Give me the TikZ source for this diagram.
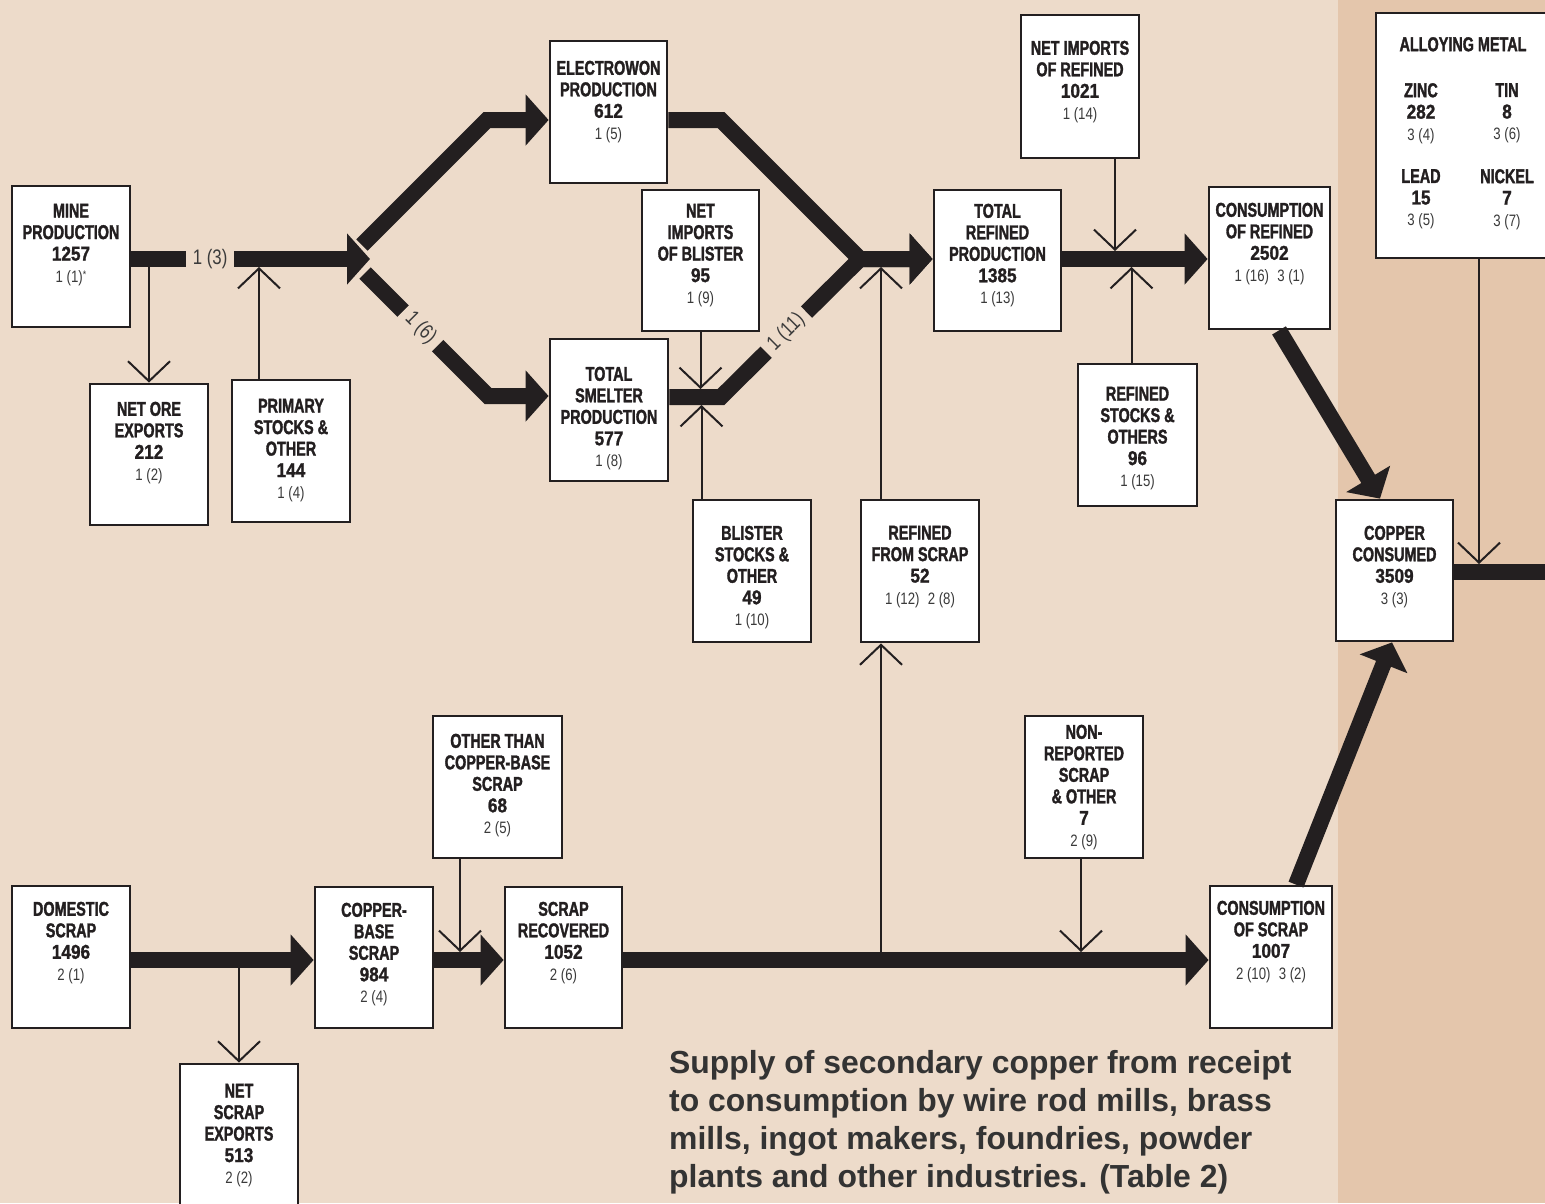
\documentclass[tikz,border=0pt]{standalone}
\usepackage{fontspec}
\setmainfont{Liberation Sans}
\newfontfamily\ttlfont{Liberation Sans Bold}[FakeStretch=0.72, FakeBold=1.6]
\newfontfamily\numfam{Liberation Sans Bold}[FakeStretch=0.86, FakeBold=1.2]
\newfontfamily\codefam{Liberation Sans}[FakeStretch=0.80]
\usetikzlibrary{arrows.meta,calc}
\definecolor{bgL}{HTML}{EDDBCA}
\definecolor{bgR}{HTML}{E4C6AC}
\definecolor{ink}{HTML}{231F20}
\definecolor{codec}{HTML}{3A3A3A}
\definecolor{capc}{HTML}{333333}
\newcommand\nm[1]{{\numfam\fontsize{20}{21.5}\selectfont #1}}
\newcommand\cd[1]{{\codefam\color{codec}\fontsize{16.5}{21.5}\selectfont #1}}
\newcommand\cbox[7]{%
  \node[box, minimum width={#4-#2}, minimum height={#5-#3}] (#1) at ({(#2+#4)/2},{(#3+#5)/2}) {};
  \node[boxtxt, anchor=north] (#1-t) at ($(#1.north)+(0,#6)$) {#7};
}
\tikzset{
  box/.style={draw=ink, line width=2.8pt, fill=white, inner sep=0pt},
  boxtxt/.style={align=center, inner sep=0pt, text=ink, font=\ttlfont\fontsize{20}{21.5}\selectfont},
  flow/.style={draw=ink, line width=16pt},
  flowarr/.style={flow, -{Triangle[length=23pt,width=50pt]}},
  thinarr/.style={draw=ink, line width=2pt, -{Straight Barb[length=20pt,width=42pt,line width=2pt]}},
  flowlbl/.style={fill=bgL, text=codec, inner xsep=7pt, inner ysep=3pt, font=\codefam\fontsize{21}{21}\selectfont},
}
\begin{document}
\begin{tikzpicture}[x=1pt,y=-1pt]
\useasboundingbox (0,0) rectangle (1545,1203);
\clip (0,0) rectangle (1545,1203);
\fill[bgL] (0,0) rectangle (1545,1203);
\fill[bgR] (1338,0) rectangle (1545,1203);

% boxes
\cbox{mine}{12}{186}{130}{327}{19}{MINE\\PRODUCTION\\\nm{1257}\\\cd{1 (1)\raisebox{4pt}{\fontsize{11}{11}\selectfont *}}}
\cbox{netore}{90}{384}{208}{525}{19}{NET ORE\\EXPORTS\\\nm{212}\\\cd{1 (2)}}
\cbox{prim}{232}{380}{350}{522}{20}{PRIMARY\\STOCKS \&\\OTHER\\\nm{144}\\\cd{1 (4)}}
\cbox{ew}{550}{41}{667}{183}{21}{ELECTROWON\\PRODUCTION\\\nm{612}\\\cd{1 (5)}}
\cbox{nib}{642}{190}{759}{331}{15}{NET\\IMPORTS\\OF BLISTER\\\nm{95}\\\cd{1 (9)}}
\cbox{tsp}{550}{339}{668}{481}{29}{TOTAL\\SMELTER\\PRODUCTION\\\nm{577}\\\cd{1 (8)}}
\cbox{bs}{693}{500}{811}{642}{27}{BLISTER\\STOCKS \&\\OTHER\\\nm{49}\\\cd{1 (10)}}
\cbox{trp}{934}{190}{1061}{331}{15}{TOTAL\\REFINED\\PRODUCTION\\\nm{1385}\\\cd{1 (13)}}
\cbox{nir}{1021}{15}{1139}{158}{27}{NET IMPORTS\\OF REFINED\\\nm{1021}\\\cd{1 (14)}}
\cbox{rs}{1078}{364}{1197}{506}{24}{REFINED\\STOCKS \&\\OTHERS\\\nm{96}\\\cd{1 (15)}}
\cbox{rfs}{861}{500}{979}{642}{27}{REFINED\\FROM SCRAP\\\nm{52}\\\cd{1 (12)\enspace 2 (8)}}
\cbox{cor}{1209}{187}{1330}{329}{17}{CONSUMPTION\\OF REFINED\\\nm{2502}\\\cd{1 (16)\enspace 3 (1)}}
\cbox{cc}{1336}{500}{1453}{641}{27}{COPPER\\CONSUMED\\\nm{3509}\\\cd{3 (3)}}
\cbox{dom}{12}{886}{130}{1028}{17}{DOMESTIC\\SCRAP\\\nm{1496}\\\cd{2 (1)}}
\cbox{nse}{180}{1064}{298}{1215}{21}{NET\\SCRAP\\EXPORTS\\\nm{513}\\\cd{2 (2)}}
\cbox{cbs}{315}{887}{433}{1028}{17}{COPPER-\\BASE\\SCRAP\\\nm{984}\\\cd{2 (4)}}
\cbox{oth}{433}{716}{562}{858}{19}{OTHER THAN\\COPPER-BASE\\SCRAP\\\nm{68}\\\cd{2 (5)}}
\cbox{sr}{505}{887}{622}{1028}{16}{SCRAP\\RECOVERED\\\nm{1052}\\\cd{2 (6)}}
\cbox{nrs}{1025}{716}{1143}{858}{10}{NON-\\REPORTED\\SCRAP\\\& OTHER\\\nm{7}\\\cd{2 (9)}}
\cbox{cos}{1210}{886}{1332}{1028}{16}{CONSUMPTION\\OF SCRAP\\\nm{1007}\\\cd{2 (10)\enspace 3 (2)}}
\node[box, minimum width=194, minimum height=245] (alloy) at (1473,135.5) {};

% helper coordinates
\coordinate (rowA) at (0,259);
\coordinate (rowS) at (0,397);
\coordinate (rowC) at (0,960);
\coordinate (rowU) at (0,572);
\coordinate (split) at (370,259);
\coordinate (u0) at (362,245);
\coordinate (u1) at (487,120);
\coordinate (l0) at (365,273);
\coordinate (l1) at (488,396);
\coordinate (k1) at (721,120);
\coordinate (k2) at (721,397);
\coordinate (jn) at (860,259);
\coordinate (uout) at (1560,572);
\coordinate (aline) at (1479,0);
\coordinate (px) at ($(prim.north)+(-32,0)$);
\coordinate (bx) at ($(bs.north)+(-50.5,0)$);
\coordinate (rfx) at ($(rfs.north)+(-39,0)$);
\coordinate (rfy) at ($(rfs.south)+(-39,0)$);
\coordinate (nix) at ($(nir.south)+(35,0)$);
\coordinate (rsx) at ($(rs.north)+(-6,0)$);
\coordinate (ox) at ($(oth.south)+(-37.5,0)$);
\coordinate (nrx) at ($(nrs.south)+(-3,0)$);
\coordinate (corx) at ($(cor.south)+(9.5,0)$);
\coordinate (ccin) at ($(cc.north)+(-14.5,0)$);
\coordinate (cosx) at ($(cos.north)+(25,0)$);
\coordinate (ccb) at ($(cc.south)+(-2.5,0)$);

% thick flows
\draw[flowarr] (mine.east |- rowA) -- node[flowlbl, pos=0.33] (lab13) {1 (3)} (split);
\draw[flowarr] (u0) -- (u1) -- (ew.west |- u1);
\draw[flowarr] (l0) -- node[flowlbl, sloped, pos=0.45] (lab16) {1 (6)} (l1) -- (tsp.west |- l1);
\draw[flowarr] (tsp.east |- k2) -- (k2) -- node[flowlbl, sloped, pos=0.47] (lab111) {1 (11)} (jn) -- (trp.west |- jn);
\draw[flowarr] (ew.east |- k1) -- (k1) -- (jn) -- (trp.west |- jn);
\draw[flowarr] (trp.east |- rowA) -- (cor.west |- rowA);
\draw[flowarr] (corx) -- (ccin);
\draw[flowarr] (cosx) -- (ccb);
\draw[flow] (cc.east |- rowU) -- (uout);
\draw[flowarr] (dom.east |- rowC) -- (cbs.west |- rowC);
\draw[flowarr] (cbs.east |- rowC) -- (sr.west |- rowC);
\draw[flowarr] (sr.east |- rowC) -- (cos.west |- rowC);

% thin arrows
\draw[thinarr] (netore.north |- rowA) -- (netore.north);
\draw[thinarr, shorten >=8pt] (px) -- (px |- rowA);
\draw[thinarr, shorten >=8pt] (nib.south) -- (nib.south |- rowS);
\draw[thinarr, shorten >=8pt] (bx) -- (bx |- rowS);
\draw[thinarr, shorten >=8pt] (rfx) -- (rfx |- rowA);
\draw[thinarr] (rfy |- rowC) -- (rfy);
\draw[thinarr, shorten >=8pt] (nix) -- (nix |- rowA);
\draw[thinarr, shorten >=8pt] (rsx) -- (rsx |- rowA);
\draw[thinarr, shorten >=8pt] (alloy.south -| aline) -- (aline |- rowU);
\draw[thinarr, shorten >=8pt] (ox) -- (ox |- rowC);
\draw[thinarr, shorten >=8pt] (nrx) -- (nrx |- rowC);
\draw[thinarr] (nse.north |- rowC) -- (nse.north);

% alloy texts
\node[boxtxt, anchor=north] (alloyT) at (1463,37) {ALLOYING METAL};
\node[boxtxt, anchor=north] (zinc) at (1421,83) {ZINC\\\nm{282}\\\cd{3 (4)}};
\node[boxtxt, anchor=north] (tin) at (1507,83) {TIN\\\nm{8}\\\cd{3 (6)}};
\node[boxtxt, anchor=north] (lead) at (1421,169) {LEAD\\\nm{15}\\\cd{3 (5)}};
\node[boxtxt, anchor=north] (nickel) at (1507,169) {NICKEL\\\nm{7}\\\cd{3 (7)}};

% caption
\node[anchor=north west, align=left, inner sep=0pt, text=capc, font=\bfseries\fontsize{31.9}{38}\selectfont] (cap) at (669,1050) {Supply of secondary copper from receipt\\to consumption by wire rod mills, brass\\mills, ingot makers, foundries, powder\\plants and other industries. (Table 2)};
\end{tikzpicture}
\end{document}
